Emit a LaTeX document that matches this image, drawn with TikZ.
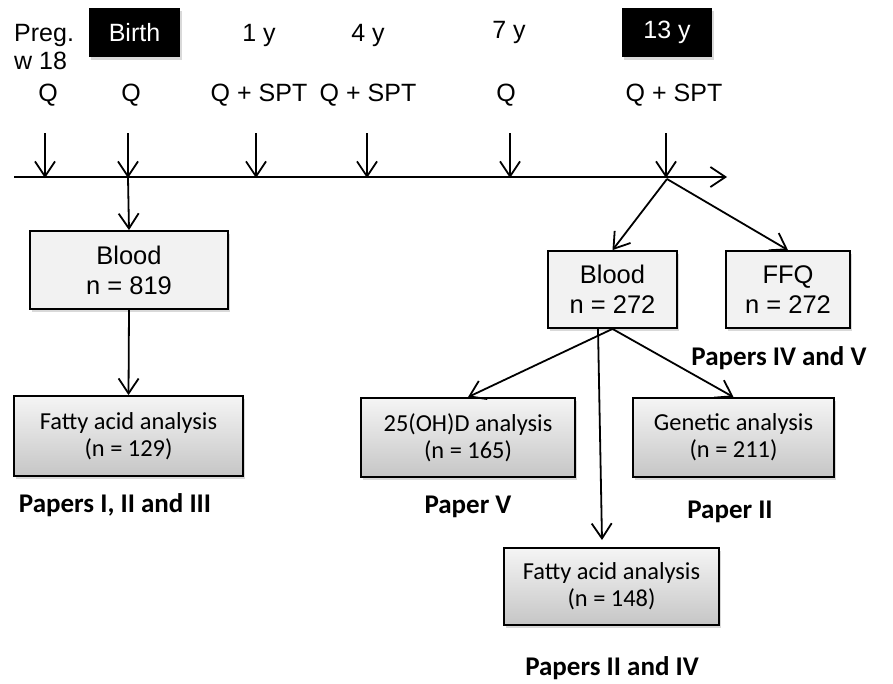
\documentclass[tikz,border=0pt]{standalone}
\usepackage{fontspec}
\setmainfont{Liberation Sans}
\newfontfamily\califont{Carlito}
\usetikzlibrary{arrows.meta,shadows}

\definecolor{boxgray}{HTML}{F2F2F2}

\begin{document}
\begin{tikzpicture}[x=1pt,y=-1pt,
	tip/.style={line width=1.8pt,-{Straight Barb[length=15pt,width=20pt]}},
	softshadow/.style={drop shadow={shadow xshift=2pt,shadow yshift=-3pt,opacity=0.3}},
	stamp/.style={fill=black,text=white,minimum width=91pt,minimum height=49pt,
		inner sep=0pt,font=\fontsize{25}{29}\selectfont,softshadow},
	lbl/.style={anchor=base,inner sep=0pt,font=\fontsize{25}{29}\selectfont},
	bloodbox/.style={draw,line width=1.8pt,fill=boxgray,align=center,inner sep=0pt,
		font=\fontsize{25.5}{30}\selectfont,softshadow},
	labbox/.style={draw,line width=1.8pt,top color=gray!8,bottom color=gray!45,
		align=center,inner sep=0pt,font=\califont\fontsize{24.4}{27}\selectfont,softshadow},
	paper/.style={inner sep=0pt,font=\califont\bfseries\fontsize{27}{31}\selectfont}
	]
	
	% ---- (A) canvas: 893 x 683 ----
	\useasboundingbox (0,0) rectangle (893,683);
	
	% ---- (B) time points along the top ----
	\node[anchor=north west,align=left,inner sep=0pt,
	font=\fontsize{25}{28}\selectfont] (preg-lbl) at (14,24) {Preg.\\w 18};
	\node[stamp] (birth-lbl) at (134.5,32.5) {Birth};
	\node[lbl] (y1-lbl) at (259,41) {1 y};
	\node[lbl] (y4-lbl) at (368,41) {4 y};
	\node[lbl] (y7-lbl) at (509,38) {7 y};
	\node[stamp,minimum width=90pt] (y13-lbl) at (667,32.5) {13 y};
	
	% questionnaires / tests at each point
	\foreach \n/\x/\t in {preg/48/Q,birth/131/Q,y1/259/Q + SPT,y4/368/Q + SPT,y7/506/Q,y13/674/Q + SPT}{
		\node[lbl] (\n-q) at (\x,101) {\t};
	}
	
	% ---- (C) time axis with the down arrows ----
	\coordinate (ax-start) at (14,177);
	\coordinate (ax-end) at (727,177);
	\draw[tip] (ax-start) -- (ax-end);
	
	\foreach \n/\x in {preg/45,birth/128,y1/256,y4/367,y7/510,y13/666}{
		\coordinate (\n-top) at (\x,133);
		\coordinate (\n-ax) at (\x,178);
		\draw[tip] (\n-top) -- (\n-ax);
	}
	
	% ---- (D) birth branch ----
	\node[bloodbox,minimum width=198pt,minimum height=78pt] (blood1) at (129,270) {Blood\\n = 819};
	\node[labbox,minimum width=229pt,minimum height=80pt] (fa1) at (128.5,436) {Fatty acid analysis\\(n = 129)};
	\node[paper] (p-fa1) at (115,505) {Papers I, II and III};
	
	\draw[tip] (birth-ax) -- (blood1.north);
	\draw[tip] (blood1.south) -- (fa1.north);
	
	% ---- (E) 13 y branch ----
	\coordinate (split) at (667,179);
	\node[bloodbox,minimum width=129pt,minimum height=77pt] (blood2) at (612.5,289.5) {Blood\\n = 272};
	\node[bloodbox,minimum width=124pt,minimum height=77pt] (ffq) at (788,289.5) {FFQ\\n = 272};
	\node[paper] (p-ffq) at (779,358) {Papers IV and V};
	
	\draw[tip] (split) -- (blood2.north);
	\draw[tip] (split) -- (ffq.north);
	
	% analyses of the 13 y blood samples
	\node[labbox,minimum width=214pt,minimum height=79pt] (ohd) at (468,437.5) {25(OH)D analysis\\(n = 165)};
	\node[labbox,minimum width=201pt,minimum height=79pt] (gen) at (733.5,437.5) {Genetic analysis\\(n = 211)};
	\node[labbox,minimum width=215pt,minimum height=77pt] (fa2) at (611.5,586.5) {Fatty acid analysis\\(n = 148)};
	\node[paper] (p-ohd) at (468,507) {Paper V};
	\node[paper] (p-gen) at (730,512) {Paper II};
	\node[paper] (p-fa2) at (612,668) {Papers II and IV};
	
	\coordinate (fa2-in) at (602,540);
	\draw[tip] (blood2.south) -- (ohd.north);
	\draw[tip] (blood2.south) -- (gen.north);
	\draw[tip] (blood2.south -| 598,0) -- (fa2-in);
	
\end{tikzpicture}
\end{document}
